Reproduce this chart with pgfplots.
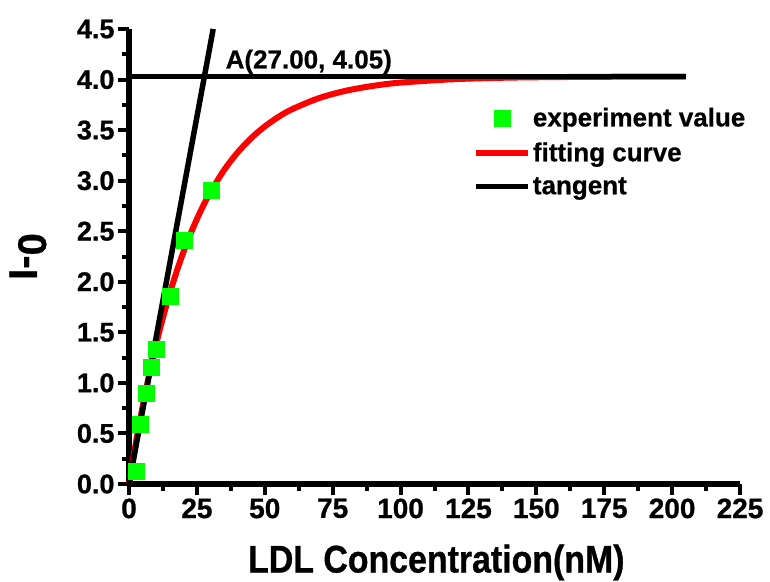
\documentclass[border=0pt]{standalone}
\usepackage{pgfplots}
\pgfplotsset{compat=1.18}
\usepackage{fontspec}
\setmainfont{Liberation Sans}[BoldFeatures={FakeBold=0.6}]
\newfontfamily\condfont{Liberation Sans}[FakeStretch=0.88, BoldFeatures={FakeBold=0.8}]
\newfontfamily\tickfont{Liberation Sans}[BoldFeatures={FakeBold=0.8}]
\usetikzlibrary{calc}

\begin{document}
\begin{tikzpicture}
\begin{axis}[
  width=611pt, height=455pt, scale only axis,
  xmin=0, xmax=225, ymin=0, ymax=4.5,
  axis lines=left,
  axis line style={-, line width=5.5pt},
  clip=false,
  xtick={0,25,50,75,100,125,150,175,200,225},
  ytick={0,0.5,1,1.5,2,2.5,3,3.5,4,4.5},
  minor x tick num=1, minor y tick num=1,
  tick align=outside,
  major tick length=11pt, minor tick length=7pt,
  tick style={line width=4pt, black},
  /pgf/number format/assume math mode=true,
  yticklabel style={/pgf/number format/.cd, fixed, fixed zerofill, precision=1, /tikz/.cd,
    font=\tickfont\bfseries\fontsize{27}{27}\selectfont},
  xticklabel style={font=\tickfont\bfseries\fontsize{28}{28}\selectfont},
  xlabel={LDL Concentration(nM)},
  xlabel style={at={(rel axis cs:0.503,0)}, anchor=base, yshift=-88.5pt,
    font=\condfont\bfseries\fontsize{38.5}{38.5}\selectfont},
  ylabel={I-\raisebox{-9pt}{0}},
  ylabel style={at={(rel axis cs:0,0.5)}, anchor=base, yshift=92pt,
    font=\bfseries\fontsize{40}{40}\selectfont},
  legend style={draw=none, fill=none, at={(rel axis cs:0.5625,0.832)}, anchor=north west,
    font=\bfseries\fontsize{26}{26}\selectfont, row sep=10.5pt, inner sep=0pt,
    cells={anchor=west}},
  legend image code/.code={\draw[mark repeat=2, mark phase=2, #1]
    plot coordinates {(0pt,0pt) (26pt,0pt) (52pt,0pt)};},
]
\coordinate (O) at (axis cs:0,0);

% experiment value
\addplot[only marks, mark=square*, mark size=8pt, color={rgb,1:red,0;green,1;blue,0}]
  coordinates {
  (2.5,0.13) (4.3,0.59) (6.3,0.90) (8.3,1.16) (10.2,1.33)
  (15.3,1.86) (20.4,2.41) (30.2,2.91)
};
\addlegendentry{experiment value}

% fitting curve
\addplot[red, line width=6pt, smooth] coordinates {
  (0,0) (2,0.325) (4,0.623) (6,0.897) (8,1.150) (10,1.382) (12,1.595)
  (15,1.884) (18,2.138) (21,2.362) (24,2.559) (27,2.734) (30,2.887)
  (35,3.104) (40,3.279) (45,3.421) (50,3.536) (55,3.630) (60,3.706)
  (70,3.817) (80,3.890) (90,3.938) (100,3.970) (120,4.004) (140,4.019)
  (160,4.025) (180,4.028) (205,4.030)
};
\addlegendentry{fitting curve}

% tangent
\addplot[black, line width=5.5pt] coordinates {(0,0) (31,4.5)};
\addlegendentry{tangent}

\addplot[black, line width=5.5pt, forget plot] coordinates {(0,4.03) (205,4.03)};

\node[anchor=base west, font=\bfseries\fontsize{26}{26}\selectfont]
  at (axis cs:34.3,4.11) {A(27.00, 4.05)};
\end{axis}
\pgfresetboundingbox
\useasboundingbox ($(O)+(-129pt,-97pt)$) rectangle ($(O)+(641pt,484pt)$);
\end{tikzpicture}
\end{document}
